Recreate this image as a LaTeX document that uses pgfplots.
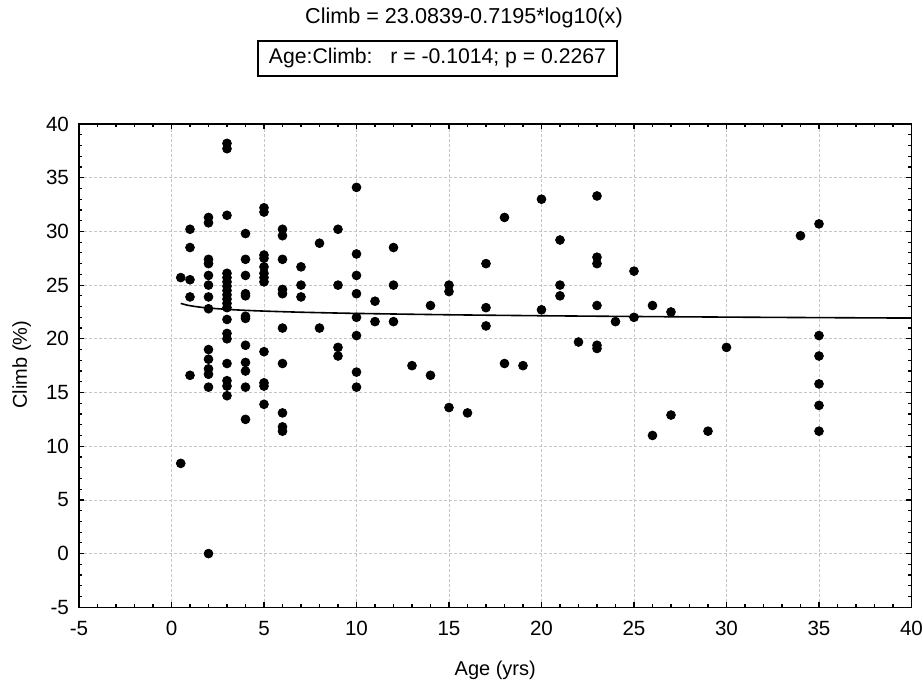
\documentclass[border=0pt]{standalone}
\usepackage{pgfplots}
\pgfplotsset{compat=1.18}
\usepackage{fontspec}
\setmainfont{Liberation Sans}
\begin{document}
\begin{tikzpicture}
\useasboundingbox (-39.5pt,-37.35pt) rectangle (422pt,303.65pt);
\begin{axis}[
  at={(0pt,0pt)}, anchor=south west,
  scale only axis, width=416.25pt, height=241.65pt,
  xmin=-5, xmax=40, ymin=-5, ymax=40,
  xtick={-5,0,...,40}, ytick={-5,0,...,40},
  minor tick num=4,
  tick align=inside,
  major tick length=2.6pt, minor tick length=1.6pt,
  every tick/.style={black, line width=0.6pt},
  axis line style={line width=0.8pt},
  grid=major,
  major grid style={gray!45, dashed, line width=0.4pt, dash pattern=on 1.5pt off 1pt},
  /pgf/number format/assume math mode=true,
  tick label style={font=\fontsize{10.3}{12}\selectfont},
  xticklabel style={yshift=-3.5pt},
  yticklabel style={xshift=-1.5pt},
  xlabel={Age (yrs)},
  label style={font=\fontsize{10}{12}\selectfont},
  xlabel style={at={(rel axis cs:0.5,0)}, anchor=center, yshift=-31.35pt},
  clip=false,
]
\addplot[only marks, mark=*, mark size=2.2pt, black] coordinates {
(0.5,25.7)(0.5,8.4)
(1,30.2)(1,28.5)(1,25.5)(1,23.9)(1,16.6)
(2,31.3)(2,30.8)(2,27.4)(2,27.0)(2,25.9)(2,25.0)(2,23.9)(2,22.8)(2,19.0)(2,18.1)(2,17.2)(2,16.7)(2,15.5)(2,0)
(3,38.2)(3,37.7)(3,31.5)(3,26.1)(3,25.7)(3,25.3)(3,24.9)(3,24.5)(3,24.1)(3,23.7)(3,23.3)(3,22.9)(3,21.8)(3,20.5)(3,20.0)(3,17.7)(3,16.1)(3,15.6)(3,14.7)
(4,29.8)(4,27.4)(4,25.9)(4,24.2)(4,24.0)(4,22.1)(4,21.9)(4,19.4)(4,17.8)(4,17.0)(4,15.5)(4,12.5)
(5,32.2)(5,31.8)(5,27.8)(5,27.5)(5,26.7)(5,26.1)(5,25.7)(5,25.3)(5,18.8)(5,15.9)(5,15.6)(5,13.9)
(6,30.2)(6,29.6)(6,27.4)(6,24.6)(6,24.2)(6,21.0)(6,17.7)(6,13.1)(6,11.8)(6,11.4)
(7,26.7)(7,25.0)(7,23.9)
(8,28.9)(8,21.0)
(9,30.2)(9,25.0)(9,19.2)(9,18.4)
(10,34.1)(10,27.9)(10,25.9)(10,24.2)(10,22.0)(10,20.3)(10,16.9)(10,15.5)
(11,23.5)(11,21.6)
(12,28.5)(12,25.0)(12,21.6)
(13,17.5)
(14,23.1)(14,16.6)
(15,25.0)(15,24.4)(15,13.6)
(16,13.1)
(17,27.0)(17,22.9)(17,21.2)
(18,31.3)(18,17.7)
(19,17.5)
(20,33.0)(20,22.7)
(21,29.2)(21,25.0)(21,24.0)
(22,19.7)
(23,33.3)(23,27.6)(23,27.0)(23,23.1)(23,19.4)(23,19.1)
(24,21.6)
(25,26.3)(25,22.0)
(26,23.1)(26,11.0)
(27,22.5)(27,12.9)
(29,11.4)
(30,19.2)
(34,29.6)
(35,30.7)(35,20.3)(35,18.4)(35,15.8)(35,13.8)(35,11.4)
};
\addplot[black, line width=0.8pt, smooth] coordinates {
(0.5,23.3005)(0.75,23.1738)(1,23.0839)(1.5,22.9572)(2,22.8673)(3,22.7406)(4,22.6507)(5,22.5810)(7,22.4758)(10,22.3644)(15,22.2377)(20,22.1478)(25,22.0781)(30,22.0211)(35,21.9729)(40,21.9312)
};
\end{axis}
\node[font=\fontsize{10}{12}\selectfont, rotate=90] at (-28.65pt,121.35pt) {Climb (\%)};
\node[font=\fontsize{10.8}{12}\selectfont] at (192.5pt,294.65pt) {Climb = 23.0839-0.7195*log10(x)};
\node[draw, line width=0.65pt, minimum width=179.5pt, minimum height=17.5pt, inner sep=0pt, font=\fontsize{10.6}{12}\selectfont] at (179.25pt,274.4pt) {Age:Climb:\ \ \ r = -0.1014; p = 0.2267};
\end{tikzpicture}
\end{document}
